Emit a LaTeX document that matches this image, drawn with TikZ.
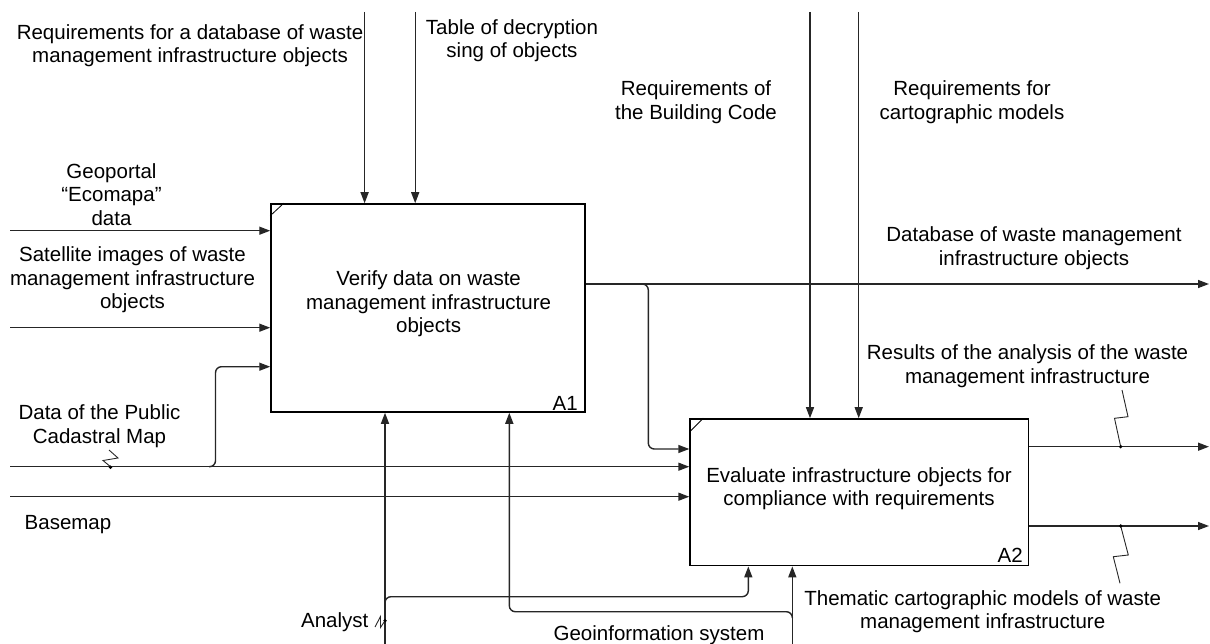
\documentclass[tikz,border=0pt]{standalone}
\usepackage{fontspec}
\setmainfont{Liberation Sans}
\usetikzlibrary{arrows.meta}
\begin{document}
\begin{tikzpicture}[x=1pt,y=-1pt,
  font=\fontsize{20.5}{23.5}\selectfont,
  func/.style={draw=black, line width=1.5pt, inner sep=0pt},
  flow/.style={draw=black!85, line width=1.4pt, -{Triangle[length=11pt,width=8pt]}},
  bendflow/.style={flow, rounded corners=6pt},
  lbl/.style={align=center, inner sep=0pt},
  squig/.style={draw=black!85, line width=0.9pt},
  tick/.style={fill=black}
]
\useasboundingbox (0,0) rectangle (1210,644);

% activity boxes
\node[func, minimum width=314pt, minimum height=208pt] (a1) at (428,308) {};
\node[func, minimum width=338.3pt, minimum height=146.7pt] (a2) at (859.2,492.3) {};
\draw[line width=0.8pt] ([yshift=-12.5pt]a1.north west) -- ([xshift=13.5pt]a1.north west);
\draw[line width=0.8pt] ([yshift=-14pt]a2.north west) -- ([xshift=14pt]a2.north west);

\node[lbl] (a1t) at (428.6,303.7) {Verify data on waste\\management infrastructure\\objects};
\node[lbl] (a2t) at (859,488.5) {Evaluate infrastructure objects for\\compliance with requirements};
\node[lbl, anchor=east] (a1n) at (578,403) {A1};
\node[lbl, anchor=east] (a2n) at (1023,555.5) {A2};

% free ends of the arrows
\coordinate (c1) at (364.6,12);
\coordinate (c2) at (415.2,12);
\coordinate (c3) at (810,12);
\coordinate (c4) at (858.7,12);
\coordinate (i1) at (10,230.7);
\coordinate (i2) at (10,327.7);
\coordinate (i3) at (10,466.7);
\coordinate (i4) at (10,496.7);
\coordinate (m1) at (385,644);
\coordinate (m2) at (792.3,644);
\coordinate (o1) at (1209,284);
\coordinate (o2) at (1209,446.7);
\coordinate (o3) at (1209,526);

% controls
\draw[flow] (c1) -- (c1 |- a1.north);
\draw[flow] (c2) -- (c2 |- a1.north);
\draw[flow] (c3) -- (c3 |- a2.north);
\draw[flow] (c4) -- (c4 |- a2.north);

% inputs
\draw[flow] (i1) -- (i1 -| a1.west);
\draw[flow] (i2) -- (i2 -| a1.west);
\draw[flow] (i3) -- (i3 -| a2.west);
\draw[flow] (i4) -- (i4 -| a2.west);
\draw[bendflow] (209,466.7) -- (215.5,466.7) -- (215.5,366.7) -- (a1.west |- 0,366.7);

% database output of A1 and its branch into A2
\draw[flow] (a1.east |- o1) -- (o1);
\draw[bendflow] (642,284) -- (648.3,284) -- (648.3,449) -- (a2.west |- 0,449);

% outputs of A2
\draw[flow] (a2.east |- o2) -- (o2);
\draw[flow] (a2.east |- o3) -- (o3);

% mechanisms
\draw[flow] (m1) -- (m1 |- a1.south);
\draw[bendflow] (385,603) -- (385,596.7) -- (748.3,596.7) -- (748.3,0 |- a2.south);
\draw[flow] (m2) -- (m2 |- a2.south);
\draw[bendflow] (792.3,618) -- (792.3,611.7) -- (509.3,611.7) -- (509.3,0 |- a1.south);

% labels
\node[lbl] (lreq1) at (190,45.5) {Requirements for a database of waste\\management infrastructure objects};
\node[lbl] (ltab) at (512,40.5) {Table of decryption\\sing of objects};
\node[lbl] (lbc) at (696,102) {Requirements of\\the Building Code};
\node[lbl] (lcart) at (972,102) {Requirements for\\cartographic models};
\node[lbl] (lgeo) at (111.5,194.5) {Geoportal\\“Ecomapa”\\data};
\node[lbl] (lsat) at (132.5,280) {Satellite images of waste\\management infrastructure\\objects};
\node[lbl] (lcad) at (99.5,426.3) {Data of the Public\\Cadastral Map};
\node[lbl] (lbase) at (68,524.7) {Basemap};
\node[lbl] (ldb) at (1034,248) {Database of waste management\\infrastructure objects};
\node[lbl] (lres) at (1027.5,366.2) {Results of the analysis of the waste\\management infrastructure};
\node[lbl] (lthem) at (982.7,611.5) {Thematic cartographic models of waste\\management infrastructure};
\node[lbl, anchor=east] (lan) at (368.5,622.5) {Analyst};
\node[lbl] (lgis) at (659,635) {Geoinformation system};

% squiggles tying labels to their arrows
\draw[squig] (109,450) -- (118,458) -- (103,460.5) -- (110.5,466.7);
\fill[tick] (110.5,467.2) circle (1.8pt);
\draw[squig] (375,627) -- (380.5,616.5) -- (380.5,627.5) -- (385,620.7);
\fill[tick] (385,620.7) circle (1.8pt);
\draw[squig] (1122,390) -- (1128,416.7) -- (1114.5,418.3) -- (1120.7,446.7);
\fill[tick] (1120.7,446.7) circle (1.8pt);
\draw[squig] (1120.7,526) -- (1128.3,555) -- (1113.3,556.7) -- (1120,583.3);
\fill[tick] (1120.7,526) circle (1.8pt);
\end{tikzpicture}
\end{document}
